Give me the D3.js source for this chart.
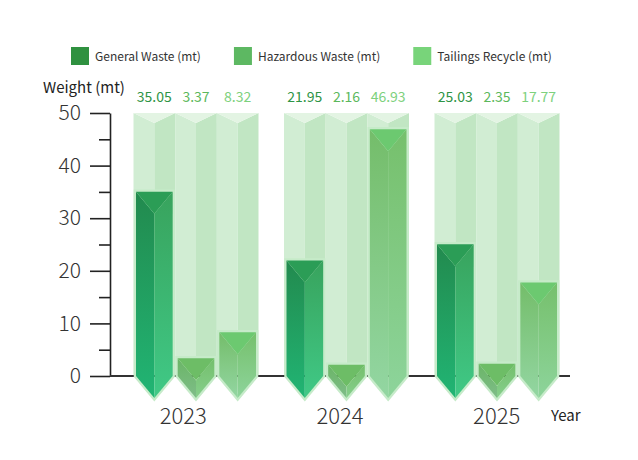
<!DOCTYPE html>
<html>
<head>
<meta charset="utf-8">
<script src="https://cdn.jsdelivr.net/npm/d3@7"></script>
<style>
  body { margin: 0; background: #fff; }
  text { font-family: "Noto Sans CJK SC", "Noto Sans", sans-serif; }
</style>
</head>
<body>
<div id="chart"></div>
<script>
// data
var years = ["2023", "2024", "2025"];
var seriesNames = ["General Waste (mt)", "Hazardous Waste (mt)", "Tailings Recycle (mt)"];
var generalWaste = [35.05, 21.95, 25.03];
var hazardousWaste = [3.37, 2.16, 2.35];
var tailingsRecycle = [8.32, 46.93, 17.77];
var yTicks = [0, 10, 20, 30, 40, 50];
var yMinorTicks = [5, 15, 25, 35, 45];

var allSeries = [generalWaste, hazardousWaste, tailingsRecycle];

var svgWidth = 638;
var svgHeight = 460;

// colours for each series: legend, label, left face, right face, top face
var styles = [
  { legend: "#2f9140", label: "#2e9445", left: ["#228a4e", "#21b574"], right: ["#38a35d", "#40c986"], top: "#2b9d56" },
  { legend: "#5db862", label: "#5cb85c", left: ["#6ab566", "#7fbd89"], right: ["#74bf6c", "#86cf8c"], top: "#6dbd66" },
  { legend: "#78d47a", label: "#7dd17d", left: ["#74bd6a", "#93d6a2"], right: ["#76c06c", "#8dd49b"], top: "#6cc970" }
];

var svg = d3.select("#chart")
  .append("svg")
  .attr("width", svgWidth)
  .attr("height", svgHeight);

var defs = svg.append("defs");
styles.forEach(function(s, i) {
  ["left", "right"].forEach(function(side) {
    var g = defs.append("linearGradient")
      .attr("id", "grad" + i + side)
      .attr("x1", 0).attr("y1", 0).attr("x2", 0).attr("y2", 1);
    g.append("stop").attr("offset", "0%").attr("stop-color", s[side][0]);
    g.append("stop").attr("offset", "100%").attr("stop-color", s[side][1]);
  });
});

var yScale = d3.scaleLinear()
  .domain([0, 50])
  .range([376, 113]);

// axis labels
var xLabelScale = d3.scaleBand()
  .domain(years)
  .range([105, 575]);

// group centres
var groupScale = d3.scalePoint()
  .domain(years)
  .range([196, 497]);

var innerScale = d3.scaleBand()
  .domain(d3.range(seriesNames.length))
  .range([-62.5, 62.5]);

var colW = innerScale.bandwidth();
var barInset = 2.5;
var tipDepth = 22;
var capDepth = 22;
var bgCapDepth = 10;
var base = yScale(0);

var chart = svg.append("g");

// background columns
years.forEach(function(year, yi) {
  d3.range(seriesNames.length).forEach(function(si) {
    var x0 = groupScale(year) + innerScale(si);
    var x1 = x0 + colW;
    var xc = (x0 + x1) / 2;
    var top = yScale(50);
    chart.append("path")
      .attr("d", `M${x0},${top}L${xc},${top + bgCapDepth}L${xc},${base}L${x0},${base}Z`)
      .attr("fill", "#d1edd3");
    chart.append("path")
      .attr("d", `M${xc},${top + bgCapDepth}L${x1},${top}L${x1},${base}L${xc},${base}Z`)
      .attr("fill", "#c1e6c3");
    chart.append("path")
      .attr("d", `M${x0},${top}L${x1},${top}L${xc},${top + bgCapDepth}Z`)
      .attr("fill", "#e3f4e3");
  });
});

// axes
var yAxis = d3.axisLeft(yScale)
  .tickValues(yTicks)
  .tickSize(20)
  .tickSizeOuter(0)
  .tickPadding(9);

var yAxisMinor = d3.axisLeft(yScale)
  .tickValues(yMinorTicks)
  .tickSize(11)
  .tickSizeOuter(0)
  .tickFormat("");

var yAxisG = chart.append("g")
  .attr("transform", "translate(110,0)")
  .call(yAxis);

chart.append("g")
  .attr("transform", "translate(110,0)")
  .call(yAxisMinor)
  .select(".domain").remove();

yAxisG.selectAll("line, path").attr("stroke", "#222").attr("stroke-width", 1.6);
yAxisG.selectAll("text")
  .attr("font-size", 21)
  .attr("font-weight", 300)
  .attr("fill", "#333")
  .style("font-family", "'Noto Sans CJK SC', sans-serif");
chart.selectAll("g line").attr("stroke", "#222").attr("stroke-width", 1.6);

chart.append("line")
  .attr("x1", 110).attr("x2", 570)
  .attr("y1", base).attr("y2", base)
  .attr("stroke", "#333")
  .attr("stroke-width", 2);

// bars
years.forEach(function(year, yi) {
  allSeries.forEach(function(values, si) {
    var v = values[yi];
    var x0 = groupScale(year) + innerScale(si) + barInset;
    var x1 = groupScale(year) + innerScale(si) + colW - barInset;
    var xc = (x0 + x1) / 2;
    var top = yScale(v);
    var tip = base + tipDepth;
    var cap = top + capDepth;

    chart.append("path")
      .attr("d", `M${x0},${top}L${x1},${top}L${x1},${base}L${xc},${tip}L${x0},${base}Z`)
      .attr("fill", "none")
      .attr("stroke", "#c6ebc9")
      .attr("stroke-width", 4.5)
      .attr("stroke-linejoin", "miter");

    chart.append("path")
      .attr("d", `M${x0},${top}L${xc},${cap}L${xc},${tip}L${x0},${base}Z`)
      .attr("fill", `url(#grad${si}left)`);
    chart.append("path")
      .attr("d", `M${xc},${cap}L${x1},${top}L${x1},${base}L${xc},${tip}Z`)
      .attr("fill", `url(#grad${si}right)`);
    chart.append("path")
      .attr("d", `M${x0},${top}L${x1},${top}L${xc},${cap}Z`)
      .attr("fill", styles[si].top);

    chart.append("text")
      .attr("x", groupScale(year) + innerScale(si) + colW / 2)
      .attr("y", 102)
      .attr("text-anchor", "middle")
      .attr("font-size", 14)
      .attr("font-weight", 400)
      .attr("fill", styles[si].label)
      .text(d3.format(".2f")(v));
  });
});

// year labels
chart.selectAll(".yearLabel")
  .data(years)
  .enter()
  .append("text")
  .attr("class", "yearLabel")
  .attr("x", d => xLabelScale(d) + xLabelScale.bandwidth() / 2)
  .attr("y", 424)
  .attr("text-anchor", "middle")
  .attr("font-size", 22)
  .attr("font-weight", 300)
  .attr("fill", "#333")
  .text(d => d);

svg.append("text")
  .attr("x", 551)
  .attr("y", 421)
  .attr("font-size", 15)
  .attr("fill", "#222")
  .text("Year");

svg.append("text")
  .attr("x", 43)
  .attr("y", 93)
  .attr("font-size", 15)
  .attr("fill", "#222")
  .text("Weight (mt)");

// legend
var legendX = 71;
seriesNames.forEach(function(name, i) {
  var item = svg.append("g").attr("transform", `translate(${legendX},47)`);
  item.append("rect")
    .attr("width", 18).attr("height", 18)
    .attr("fill", styles[i].legend);
  var t = item.append("text")
    .attr("x", 24)
    .attr("y", 14)
    .attr("font-size", 12)
    .attr("fill", "#333")
    .text(name);
  legendX += 24 + t.node().getComputedTextLength() + 33;
});
</script>
</body>
</html>
